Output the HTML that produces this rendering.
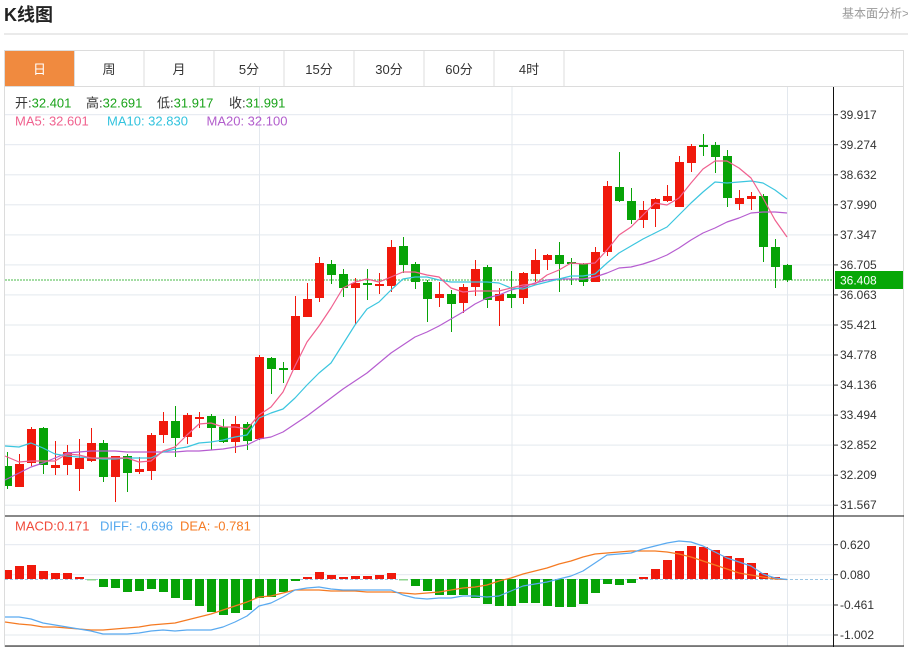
<!DOCTYPE html>
<html><head><meta charset="utf-8"><style>
html,body{margin:0;padding:0;background:#fff;width:908px;height:647px;overflow:hidden}
svg{display:block}
text{font-family:"Liberation Sans","Noto Sans CJK SC",sans-serif}
</style></head><body>
<svg width="908" height="647" viewBox="0 0 908 647" xmlns="http://www.w3.org/2000/svg">
<!-- header -->
<text x="4" y="21" font-size="18" font-weight="bold" fill="#222">K线图</text>
<text x="909" y="17.5" font-size="12" fill="#999" text-anchor="end">基本面分析&gt;</text>
<rect x="4" y="33.5" width="904" height="1" fill="#d4d4d4"/>
<!-- outer box -->
<rect x="4.5" y="50.5" width="899" height="596" fill="none" stroke="#dcdcdc"/>
<!-- tabs -->
<rect x="5" y="51" width="69" height="35" fill="#f08a3f"/>
<g fill="#dcdcdc">
<rect x="143.5" y="51" width="1" height="35"/><rect x="213.5" y="51" width="1" height="35"/>
<rect x="283.5" y="51" width="1" height="35"/><rect x="353.5" y="51" width="1" height="35"/>
<rect x="423.5" y="51" width="1" height="35"/><rect x="493.5" y="51" width="1" height="35"/>
<rect x="563.5" y="51" width="1" height="35"/><rect x="74" y="51" width="1" height="35"/>
<rect x="5" y="86" width="898" height="1"/>
</g>
<g font-size="13" fill="#333" text-anchor="middle">
<text x="39.5" y="74" fill="#fff">日</text>
<text x="109" y="74">周</text>
<text x="179" y="74">月</text>
<text x="249" y="74">5分</text>
<text x="319" y="74">15分</text>
<text x="389" y="74">30分</text>
<text x="459" y="74">60分</text>
<text x="529" y="74">4时</text>
</g>
<!-- grid -->
<g fill="#e3e8ee">
<rect x="259" y="87" width="1" height="559"/>
<rect x="511.5" y="87" width="1" height="559"/>
<rect x="787" y="87" width="1" height="559"/>
<rect x="5" y="114.2" width="828" height="1"/>
<rect x="5" y="144.2" width="828" height="1"/>
<rect x="5" y="174.3" width="828" height="1"/>
<rect x="5" y="204.3" width="828" height="1"/>
<rect x="5" y="234.4" width="828" height="1"/>
<rect x="5" y="264.4" width="828" height="1"/>
<rect x="5" y="294.4" width="828" height="1"/>
<rect x="5" y="324.5" width="828" height="1"/>
<rect x="5" y="354.5" width="828" height="1"/>
<rect x="5" y="384.6" width="828" height="1"/>
<rect x="5" y="414.6" width="828" height="1"/>
<rect x="5" y="444.6" width="828" height="1"/>
<rect x="5" y="474.7" width="828" height="1"/>
<rect x="5" y="504.7" width="828" height="1"/>
<rect x="5" y="544.2" width="828" height="1"/>
<rect x="5" y="574.2" width="828" height="1"/>
<rect x="5" y="604.5" width="828" height="1"/>
<rect x="5" y="634.5" width="828" height="1"/>
</g>
<!-- info text -->
<g font-size="13">
<text x="15" y="107.5"><tspan fill="#333">开:</tspan><tspan fill="#1aa31a">32.401</tspan><tspan fill="#333" x="86">高:</tspan><tspan fill="#1aa31a">32.691</tspan><tspan fill="#333" x="157">低:</tspan><tspan fill="#1aa31a">31.917</tspan><tspan fill="#333" x="229">收:</tspan><tspan fill="#1aa31a">31.991</tspan></text>
<text x="15" y="125.5" fill="#f0628f">MA5: 32.601</text>
<text x="107" y="125.5" fill="#33c3de">MA10: 32.830</text>
<text x="206.5" y="125.5" fill="#b25dcc">MA20: 32.100</text>
<text x="15" y="530.5" fill="#f04a3a">MACD:0.171</text>
<text x="100" y="530.5" fill="#55a8ee">DIFF: -0.696</text>
<text x="180" y="530.5" fill="#f57a22">DEA: -0.781</text>
</g>
<!-- current price dotted -->
<line x1="5" y1="280" x2="833" y2="280" stroke="#6cc66c" stroke-width="1.2" stroke-dasharray="2,1"/>
<!-- candles red -->
<g fill="#f0190c">
<rect x="19" y="454" width="1" height="33"/><rect x="15" y="464" width="9" height="23"/>
<rect x="31" y="427" width="1" height="39"/><rect x="27" y="429" width="9" height="34"/>
<rect x="55" y="441" width="1" height="34"/><rect x="51" y="465" width="9" height="3"/>
<rect x="67" y="445" width="1" height="30"/><rect x="63" y="452" width="9" height="13"/>
<rect x="79" y="439" width="1" height="52"/><rect x="75" y="458" width="9" height="11"/>
<rect x="91" y="428" width="1" height="34"/><rect x="87" y="443" width="9" height="18"/>
<rect x="115" y="456" width="1" height="46"/><rect x="111" y="456" width="9" height="21"/>
<rect x="139" y="457" width="1" height="17"/><rect x="135" y="469" width="9" height="3"/>
<rect x="151" y="433" width="1" height="47"/><rect x="147" y="435" width="9" height="36"/>
<rect x="163" y="412" width="1" height="31"/><rect x="159" y="421" width="9" height="14"/>
<rect x="187" y="413" width="1" height="31"/><rect x="183" y="415" width="9" height="22"/>
<rect x="199" y="412" width="1" height="16"/><rect x="195" y="417" width="9" height="2"/>
<rect x="235" y="416" width="1" height="37"/><rect x="231" y="424" width="9" height="18"/>
<rect x="259" y="355" width="1" height="85"/><rect x="255" y="357" width="9" height="82"/>
<rect x="295" y="296" width="1" height="74"/><rect x="291" y="316" width="9" height="54"/>
<rect x="307" y="283" width="1" height="34"/><rect x="303" y="299" width="9" height="18"/>
<rect x="319" y="257" width="1" height="45"/><rect x="315" y="263" width="9" height="35"/>
<rect x="355" y="278" width="1" height="46"/><rect x="351" y="283" width="9" height="5"/>
<rect x="379" y="273" width="1" height="21"/><rect x="375" y="284" width="9" height="2"/>
<rect x="391" y="240" width="1" height="52"/><rect x="387" y="247" width="9" height="39"/>
<rect x="439" y="282" width="1" height="25"/><rect x="435" y="294" width="9" height="4"/>
<rect x="463" y="284" width="1" height="29"/><rect x="459" y="287" width="9" height="16"/>
<rect x="475" y="260" width="1" height="36"/><rect x="471" y="269" width="9" height="18"/>
<rect x="499" y="288" width="1" height="38"/><rect x="495" y="294" width="9" height="7"/>
<rect x="523" y="272" width="1" height="32"/><rect x="519" y="273" width="9" height="25"/>
<rect x="535" y="249" width="1" height="33"/><rect x="531" y="260" width="9" height="14"/>
<rect x="547" y="254" width="1" height="16"/><rect x="543" y="255" width="9" height="5"/>
<rect x="595" y="247" width="1" height="35"/><rect x="591" y="252" width="9" height="30"/>
<rect x="607" y="181" width="1" height="75"/><rect x="603" y="186" width="9" height="66"/>
<rect x="643" y="201" width="1" height="27"/><rect x="639" y="210" width="9" height="10"/>
<rect x="655" y="198" width="1" height="29"/><rect x="651" y="199" width="9" height="10"/>
<rect x="667" y="185" width="1" height="17"/><rect x="663" y="196" width="9" height="5"/>
<rect x="679" y="156" width="1" height="51"/><rect x="675" y="162" width="9" height="45"/>
<rect x="691" y="144" width="1" height="28"/><rect x="687" y="146" width="9" height="17"/>
<rect x="739" y="190" width="1" height="20"/><rect x="735" y="198" width="9" height="6"/>
<rect x="751" y="192" width="1" height="18"/><rect x="747" y="196" width="9" height="3"/>
</g>
<!-- candles green -->
<g fill="#07a307">
<rect x="7" y="452" width="1" height="37"/><rect x="5" y="466" width="7" height="20"/>
<rect x="43" y="427" width="1" height="47"/><rect x="39" y="428" width="9" height="37"/>
<rect x="103" y="440" width="1" height="42"/><rect x="99" y="443" width="9" height="34"/>
<rect x="127" y="454" width="1" height="38"/><rect x="123" y="456" width="9" height="17"/>
<rect x="175" y="406" width="1" height="51"/><rect x="171" y="421" width="9" height="17"/>
<rect x="211" y="414" width="1" height="36"/><rect x="207" y="416" width="9" height="12"/>
<rect x="223" y="419" width="1" height="24"/><rect x="219" y="427" width="9" height="15"/>
<rect x="247" y="422" width="1" height="28"/><rect x="243" y="424" width="9" height="17"/>
<rect x="271" y="357" width="1" height="37"/><rect x="267" y="358" width="9" height="11"/>
<rect x="283" y="362" width="1" height="21"/><rect x="279" y="368" width="9" height="2"/>
<rect x="331" y="260" width="1" height="24"/><rect x="327" y="264" width="9" height="11"/>
<rect x="343" y="269" width="1" height="28"/><rect x="339" y="274" width="9" height="14"/>
<rect x="367" y="269" width="1" height="31"/><rect x="363" y="283" width="9" height="2"/>
<rect x="403" y="237" width="1" height="36"/><rect x="399" y="246" width="9" height="19"/>
<rect x="415" y="262" width="1" height="27"/><rect x="411" y="264" width="9" height="18"/>
<rect x="427" y="280" width="1" height="42"/><rect x="423" y="282" width="9" height="17"/>
<rect x="451" y="290" width="1" height="42"/><rect x="447" y="294" width="9" height="10"/>
<rect x="487" y="265" width="1" height="43"/><rect x="483" y="267" width="9" height="33"/>
<rect x="511" y="271" width="1" height="37"/><rect x="507" y="294" width="9" height="4"/>
<rect x="559" y="242" width="1" height="50"/><rect x="555" y="255" width="9" height="9"/>
<rect x="571" y="258" width="1" height="27"/><rect x="567" y="262" width="9" height="2"/>
<rect x="583" y="263" width="1" height="23"/><rect x="579" y="264" width="9" height="18"/>
<rect x="619" y="152" width="1" height="50"/><rect x="615" y="187" width="9" height="14"/>
<rect x="631" y="188" width="1" height="36"/><rect x="627" y="201" width="9" height="19"/>
<rect x="703" y="134" width="1" height="22"/><rect x="699" y="145" width="9" height="2"/>
<rect x="715" y="142" width="1" height="31"/><rect x="711" y="145" width="9" height="12"/>
<rect x="727" y="150" width="1" height="57"/><rect x="723" y="156" width="9" height="42"/>
<rect x="763" y="194" width="1" height="68"/><rect x="759" y="196" width="9" height="51"/>
<rect x="775" y="239" width="1" height="49"/><rect x="771" y="247" width="9" height="20"/>
<rect x="787" y="264" width="1" height="18"/><rect x="783" y="265" width="9" height="15"/>
</g>
<!-- MA lines -->
<g fill="none" stroke-width="1.2" stroke-linejoin="round">
<polyline stroke="#b65dd0" points="5,480 19,473 31,467 43,463 55,458 67,453 79,452 91,451 103,451 115,451 127,452 139,452 151,452 163,452 175,452 187,451 199,451 211,450 223,449 235,447 247,445 259,439 271,437 283,432 295,424 307,416 319,407 331,398 343,389 355,381 367,373 379,363 391,353 403,345 415,337 427,332 439,326 451,319 463,312 475,304 487,298 499,295 511,290 523,287 535,283 547,280 559,279 571,279 583,279 595,277 607,273 619,268 631,267 643,264 655,260 667,255 679,248 691,240 703,233 715,228 727,222 739,218 751,213 763,212 775,212 787,213"/>
<polyline stroke="#3cc6df" points="5,446 19,447 31,443 43,448 55,454 67,456 79,457 91,458 103,459 115,459 127,458 139,458 151,458 163,452 175,449 187,447 199,443 211,442 223,440 235,437 247,435 259,418 271,413 283,409 295,398 307,385 319,373 331,363 343,344 355,325 367,309 379,302 391,290 403,279 415,277 427,277 439,280 451,282 463,282 475,282 487,282 499,283 511,288 523,289 535,285 547,282 559,279 571,276 583,276 595,274 607,263 619,253 631,246 643,239 655,233 667,227 679,215 691,203 703,192 715,182 727,183 739,182 751,181 763,183 775,190 787,199"/>
<polyline stroke="#f0608f" points="5,456 19,462 31,461 43,461 55,461 67,454 79,455 91,458 103,458 115,458 127,458 139,462 151,461 163,451 175,447 187,435 199,424 211,423 223,427 235,427 247,429 259,415 271,407 283,392 295,366 307,342 319,326 331,308 343,288 355,282 367,279 379,282 391,277 403,272 415,272 427,275 439,277 451,288 463,292 475,291 487,291 499,291 511,288 523,285 535,284 547,275 559,270 571,263 583,264 595,263 607,250 619,235 631,227 643,215 655,203 667,205 679,198 691,183 703,169 715,161 727,161 739,168 751,178 763,198 775,220 787,237"/>
</g>
<!-- MACD zero line -->
<line x1="5" y1="579.5" x2="833" y2="579.5" stroke="#9cc6e4" stroke-width="1" stroke-dasharray="3,2"/>
<!-- MACD red bars -->
<g fill="#f0190c">
<rect x="5" y="570" width="7" height="9"/>
<rect x="15" y="566" width="9" height="13"/>
<rect x="27" y="565" width="9" height="14"/>
<rect x="39" y="571" width="9" height="8"/>
<rect x="51" y="573" width="9" height="6"/>
<rect x="63" y="573" width="9" height="6"/>
<rect x="75" y="577" width="9" height="2"/>
<rect x="303" y="577" width="9" height="2"/>
<rect x="315" y="572" width="9" height="7"/>
<rect x="327" y="575" width="9" height="4"/>
<rect x="339" y="577" width="9" height="2"/>
<rect x="351" y="576" width="9" height="3"/>
<rect x="363" y="576" width="9" height="3"/>
<rect x="375" y="575" width="9" height="4"/>
<rect x="387" y="573" width="9" height="6"/>
<rect x="639" y="577" width="9" height="2"/>
<rect x="651" y="569" width="9" height="10"/>
<rect x="663" y="560" width="9" height="19"/>
<rect x="675" y="551" width="9" height="28"/>
<rect x="687" y="546" width="9" height="33"/>
<rect x="699" y="547" width="9" height="32"/>
<rect x="711" y="550" width="9" height="29"/>
<rect x="723" y="556" width="9" height="23"/>
<rect x="735" y="558" width="9" height="21"/>
<rect x="747" y="563" width="9" height="16"/>
<rect x="759" y="573" width="9" height="6"/>
<rect x="771" y="577" width="9" height="2"/>
</g>
<!-- MACD green bars -->
<g fill="#07a307">
<rect x="87" y="579" width="9" height="1.5" fill="#8fd48f"/>
<rect x="99" y="579" width="9" height="8"/>
<rect x="111" y="579" width="9" height="9"/>
<rect x="123" y="579" width="9" height="13"/>
<rect x="135" y="579" width="9" height="12"/>
<rect x="147" y="579" width="9" height="10"/>
<rect x="159" y="579" width="9" height="13"/>
<rect x="171" y="579" width="9" height="19"/>
<rect x="183" y="579" width="9" height="21"/>
<rect x="195" y="579" width="9" height="27"/>
<rect x="207" y="579" width="9" height="33"/>
<rect x="219" y="579" width="9" height="36"/>
<rect x="231" y="579" width="9" height="34"/>
<rect x="243" y="579" width="9" height="31"/>
<rect x="255" y="579" width="9" height="19"/>
<rect x="267" y="579" width="9" height="18"/>
<rect x="279" y="579" width="9" height="13"/>
<rect x="291" y="579" width="9" height="2"/>
<rect x="399" y="579" width="9" height="1.5" fill="#8fd48f"/>
<rect x="411" y="579" width="9" height="7"/>
<rect x="423" y="579" width="9" height="12"/>
<rect x="435" y="579" width="9" height="16"/>
<rect x="447" y="579" width="9" height="16"/>
<rect x="459" y="579" width="9" height="16"/>
<rect x="471" y="579" width="9" height="19"/>
<rect x="483" y="579" width="9" height="25"/>
<rect x="495" y="579" width="9" height="27"/>
<rect x="507" y="579" width="9" height="27"/>
<rect x="519" y="579" width="9" height="24"/>
<rect x="531" y="579" width="9" height="24"/>
<rect x="543" y="579" width="9" height="27"/>
<rect x="555" y="579" width="9" height="28"/>
<rect x="567" y="579" width="9" height="28"/>
<rect x="579" y="579" width="9" height="25"/>
<rect x="591" y="579" width="9" height="14"/>
<rect x="603" y="579" width="9" height="5"/>
<rect x="615" y="579" width="9" height="6"/>
<rect x="627" y="579" width="9" height="4"/>
</g>
<!-- DIFF / DEA -->
<g fill="none" stroke-width="1.2" stroke-linejoin="round">
<polyline stroke="#f57a22" points="5,622 19,624 31,625 43,627 55,627 67,628 79,629 91,630 103,630 115,629 127,628 139,627 151,625 163,624 175,623 187,620 199,617 211,614 223,610 235,606 247,602 259,597 271,596 283,593 295,590 307,590 319,590 331,591 343,591 355,591 367,592 379,592 391,592 403,593 415,594 427,593 439,592 451,590 463,588 475,587 487,585 499,581 511,578 523,574 535,571 547,568 559,564 571,561 583,557 595,554 607,553 619,552 631,551 643,551 655,551 667,552 679,554 691,557 703,561 715,565 727,569 739,573 751,575 763,577 775,579 787,579.5"/>
<polyline stroke="#5aaaf0" points="5,617 19,617 31,619 43,623 55,625 67,627 79,629 91,631 103,634 115,634 127,634 139,633 151,631 163,630 175,631 187,630 199,630 211,630 223,627 235,622 247,616 259,606 271,603 283,597 295,590 307,588 319,587 331,589 343,590 355,590 367,590 379,590 391,590 403,595 415,598 427,599 439,598 451,598 463,596 475,596 487,597 499,596 511,591 523,586 535,584 547,582 559,579 571,576 583,571 595,563 607,555 619,554 631,553 643,549 655,546 667,543 679,541 691,542 703,546 715,552 727,558 739,562 751,566 763,574 775,578 787,579.5"/>
</g>
<!-- axes -->
<g fill="#111">
<rect x="833" y="87" width="1" height="560"/>
<rect x="5" y="515.5" width="899" height="1"/>
<rect x="5" y="645.5" width="899" height="1"/>
</g>
<g stroke="#333" stroke-width="1">
<line x1="833" y1="114.7" x2="838" y2="114.7"/><line x1="833" y1="144.7" x2="838" y2="144.7"/>
<line x1="833" y1="174.8" x2="838" y2="174.8"/><line x1="833" y1="204.8" x2="838" y2="204.8"/>
<line x1="833" y1="234.9" x2="838" y2="234.9"/><line x1="833" y1="264.9" x2="838" y2="264.9"/>
<line x1="833" y1="294.9" x2="838" y2="294.9"/><line x1="833" y1="325" x2="838" y2="325"/>
<line x1="833" y1="355" x2="838" y2="355"/><line x1="833" y1="385.1" x2="838" y2="385.1"/>
<line x1="833" y1="415.1" x2="838" y2="415.1"/><line x1="833" y1="445.1" x2="838" y2="445.1"/>
<line x1="833" y1="475.2" x2="838" y2="475.2"/><line x1="833" y1="505.2" x2="838" y2="505.2"/>
<line x1="833" y1="544.7" x2="838" y2="544.7"/><line x1="833" y1="574.7" x2="838" y2="574.7"/>
<line x1="833" y1="605" x2="838" y2="605"/><line x1="833" y1="635" x2="838" y2="635"/>
</g>
<g font-size="12" fill="#333">
<text x="840" y="119">39.917</text>
<text x="840" y="149">39.274</text>
<text x="840" y="179">38.632</text>
<text x="840" y="209">37.990</text>
<text x="840" y="239">37.347</text>
<text x="840" y="269">36.705</text>
<text x="840" y="299">36.063</text>
<text x="840" y="329">35.421</text>
<text x="840" y="359">34.778</text>
<text x="840" y="389">34.136</text>
<text x="840" y="419">33.494</text>
<text x="840" y="449">32.852</text>
<text x="840" y="479">32.209</text>
<text x="840" y="509">31.567</text>
<text x="840" y="549">0.620</text>
<text x="840" y="579">0.080</text>
<text x="840" y="609">-0.461</text>
<text x="840" y="639">-1.002</text>
</g>
<rect x="835" y="271" width="68" height="18" fill="#07a707"/>
<text x="840" y="284.5" font-size="12" fill="#fff">36.408</text>
</svg>
</body></html>
